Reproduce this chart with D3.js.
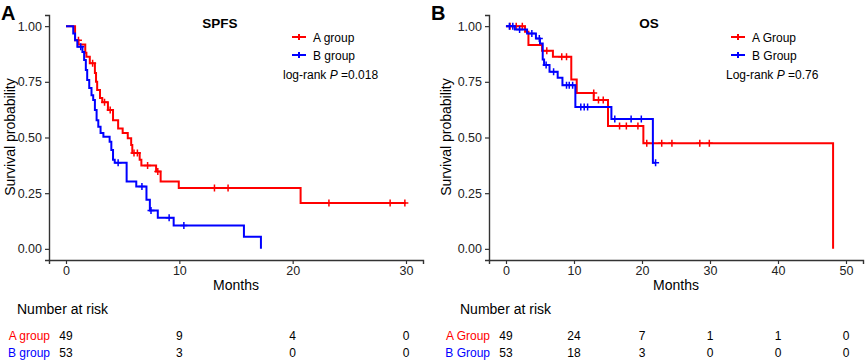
<!DOCTYPE html>
<html>
<head>
<meta charset="utf-8">
<script src="https://cdn.jsdelivr.net/npm/d3@7"></script>
<style>
  body { margin: 0; background: #fff; }
  svg { font-family: "Liberation Sans", Arial, sans-serif; }
</style>
</head>
<body>
<svg width="865" height="361"></svg>
<script>
// ---- data ----
// step points [months, survival]
const spfsA = [[0,1],[0.8,0.937],[1.1,0.918],[1.7,0.88],[1.8,0.862],[2.1,0.833],[2.55,0.79],[2.65,0.75],
  [2.75,0.713],[3.0,0.677],[3.2,0.658],[3.7,0.623],[4.15,0.578],[4.6,0.54],[5.0,0.52],[5.45,0.497],
  [5.75,0.466],[5.85,0.43],[6.5,0.40],[6.65,0.374],[7.95,0.347],[8.35,0.302],[9.95,0.273],[20.7,0.206],[30,0.206]];
const spfsB = [[0,1],[0.64,0.967],[0.8,0.937],[1.0,0.907],[1.45,0.884],[1.6,0.848],[1.75,0.803],[1.87,0.758],
  [2.05,0.722],[2.25,0.69],[2.4,0.668],[2.55,0.623],[2.7,0.578],[2.85,0.548],[3.05,0.52],[3.3,0.503],
  [3.85,0.481],[4.0,0.444],[4.15,0.40],[4.3,0.387],[5.35,0.302],[6.2,0.28],[7.1,0.22],[7.4,0.172],
  [8.1,0.14],[9.5,0.105],[15.7,0.054],[17.2,0]];
const spfsACens = [[1.1,0.937],[2.35,0.833],[3.4,0.658],[3.9,0.623],[6.0,0.43],[6.3,0.43],[7.2,0.374],
  [8.1,0.347],[13.1,0.273],[14.3,0.273],[23.2,0.206],[28.6,0.206],[29.9,0.206]];
const spfsBCens = [[1.3,0.907],[4.6,0.387],[6.7,0.28],[7.5,0.172],[9.1,0.14],[10.4,0.105]];

const osA = [[0,1],[2.8,0.975],[3.3,0.915],[5.3,0.89],[6.9,0.862],[9.6,0.76],[10.4,0.70],[12.9,0.668],
  [15.0,0.552],[20.2,0.474],[48.1,0]];
const osB = [[0,1],[1.3,0.985],[3.1,0.967],[4.4,0.944],[5.0,0.922],[5.4,0.85],[5.6,0.825],[6.4,0.795],
  [7.6,0.768],[8.3,0.735],[10.2,0.637],[15.5,0.583],[21.6,0.387],[22.0,0.387]];
const osACens = [[0.6,1],[1.5,1],[2.4,1],[6.0,0.89],[8.2,0.862],[8.9,0.862],[12.9,0.70],[13.6,0.668],
  [14.3,0.668],[16.7,0.552],[17.7,0.552],[19.4,0.552],[20.7,0.474],[22.9,0.474],[24.4,0.474],
  [28.5,0.474],[29.9,0.474]];
const osBCens = [[0.5,1],[1.0,1],[2.0,0.985],[3.8,0.967],[4.9,0.944],[5.9,0.825],[7.0,0.795],
  [8.9,0.735],[9.3,0.735],[9.8,0.735],[11.0,0.637],[11.5,0.637],[12.0,0.637],[16.0,0.583],
  [18.4,0.583],[19.9,0.583],[22.0,0.387]];

const yTicks = [0, 0.25, 0.5, 0.75, 1];
const xTicksA = [0, 10, 20, 30];
const xTicksB = [0, 10, 20, 30, 40, 50];
const riskA1 = [49, 9, 4, 0];
const riskA2 = [53, 3, 0, 0];
const riskB1 = [49, 24, 7, 1, 1, 0];
const riskB2 = [53, 18, 3, 0, 0, 0];

const RED = "#ff0000", BLUE = "#0000ff", AX = "#333";

function drawPanel(o) {
    const svg = d3.select("svg");
    const g = svg.append("g");
    const x = d3.scaleLinear().domain(o.xDomain).range([o.left, o.right]);
    const y = d3.scaleLinear().domain([-0.05, 1.05]).range([260, 15]);

    const yAxis = g.append("g").attr("transform", `translate(${o.left},0)`)
        .call(d3.axisLeft(y).tickValues(yTicks).tickFormat(d3.format(".2f")).tickSizeOuter(0).tickSize(4).tickPadding(3));
    const xAxis = g.append("g").attr("transform", "translate(0,260)")
        .call(d3.axisBottom(x).tickValues(o.xTicks).tickSizeOuter(0).tickSize(4).tickPadding(2));
    [yAxis, xAxis].forEach(a => {
        a.select(".domain").attr("stroke", AX).attr("stroke-width", 1.4);
        a.selectAll(".tick line").attr("stroke", AX).attr("stroke-width", 1.2);
        a.selectAll(".tick text").attr("fill", "#222").style("font-size", "12.5px")
            .style("font-family", "Liberation Sans, Arial, sans-serif");
    });

    const line = d3.line().x(d => x(d[0])).y(d => y(d[1])).curve(d3.curveStepAfter);
    const curves = [[o.a, o.aCens, RED], [o.b, o.bCens, BLUE]];
    curves.forEach(([pts, cens, col]) => {
        g.append("path").attr("d", line(pts)).attr("fill", "none")
            .attr("stroke", col).attr("stroke-width", 2);
        g.selectAll(null).data(cens).enter().append("path")
            .attr("d", d => `M${x(d[0]) - 3.5},${y(d[1])}h7M${x(d[0])},${y(d[1]) - 3.5}v7`)
            .attr("stroke", col).attr("stroke-width", 1.5);
    });

    // panel letter and title
    g.append("text").attr("x", o.letterX).attr("y", 20).text(o.letter)
        .style("font-size", "20px").style("font-weight", "bold");
    g.append("text").attr("x", o.titleX).attr("y", 28).attr("text-anchor", "middle").text(o.title)
        .style("font-size", "13.5px").style("font-weight", "bold");

    // axis titles
    g.append("text").attr("transform", `translate(${o.ylabX},137) rotate(-90)`)
        .attr("text-anchor", "middle").text("Survival probability").style("font-size", "14px");
    g.append("text").attr("x", (o.left + o.right) / 2).attr("y", 290).attr("text-anchor", "middle")
        .text("Months").style("font-size", "14px");

    // legend
    [[o.leg[0], RED, 37], [o.leg[1], BLUE, 55]].forEach(([lab, col, ly]) => {
        g.append("path").attr("d", `M${o.legX},${ly}h14M${o.legX + 7},${ly - 3}v6`)
            .attr("stroke", col).attr("stroke-width", 2);
        g.append("text").attr("x", o.legX + 21).attr("y", ly + 4.5).text(lab).style("font-size", "12px");
    });
    const lr = g.append("text").attr("x", o.lrX).attr("y", 79).style("font-size", "12px");
    lr.append("tspan").text(o.lr + " ");
    lr.append("tspan").text("P").style("font-style", "italic");
    lr.append("tspan").text(" =" + o.p);

    // risk table
    g.append("text").attr("x", o.nrX).attr("y", 314).text("Number at risk").style("font-size", "14px");
    [[o.leg[0], o.r1, RED, 340], [o.leg[1], o.r2, BLUE, 357]].forEach(([lab, vals, col, ry]) => {
        g.append("text").attr("x", o.left + 1).attr("y", ry).attr("text-anchor", "end")
            .attr("fill", col).text(lab).style("font-size", "12px");
        g.selectAll(null).data(vals).enter().append("text")
            .attr("x", (d, i) => x(o.xTicks[i])).attr("y", ry).attr("text-anchor", "middle")
            .text(d => d).style("font-size", "12px");
    });
}

drawPanel({letter: "A", letterX: 1, title: "SPFS", titleX: 220, left: 49, right: 423, xDomain: [-1.5, 31.5],
    xTicks: xTicksA, a: spfsA, b: spfsB, aCens: spfsACens, bCens: spfsBCens, ylabX: 15, nrX: 17,
    leg: ["A group", "B group"], legX: 292, lr: "log-rank", p: "0.018", lrX: 283, r1: riskA1, r2: riskA2});
drawPanel({letter: "B", letterX: 431, title: "OS", titleX: 649, left: 489, right: 863, xDomain: [-2.5, 52.5],
    xTicks: xTicksB, a: osA, b: osB, aCens: osACens, bCens: osBCens, ylabX: 451, nrX: 460,
    leg: ["A Group", "B Group"], legX: 731, lr: "Log-rank", p: "0.76", lrX: 726, r1: riskB1, r2: riskB2});
</script>
</body>
</html>
